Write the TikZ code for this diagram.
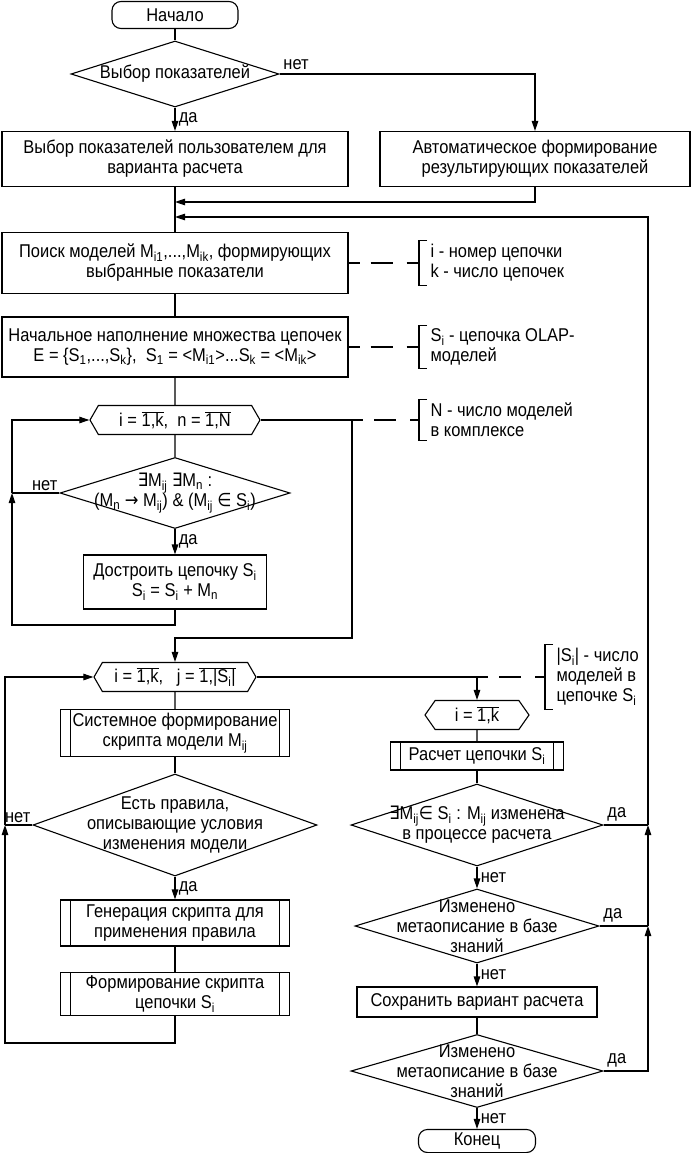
\documentclass[tikz,border=0pt]{standalone}
\usepackage{fontspec}
\setmainfont{Liberation Sans}[FakeStretch=0.89]
\newfontfamily\symfont{DejaVu Sans}[FakeStretch=0.88]
\usetikzlibrary{arrows.meta,shapes.geometric,shapes.symbols}

\newcommand{\ix}[1]{\textsubscript{#1}}
\newcommand{\ovl}[1]{$\overline{\hbox{#1}}$}
\newcommand{\exs}{{\symfont ∃}}
\newcommand{\ins}{{\symfont ∈}}
\newcommand{\arr}{{\symfont →}}

\begin{document}
\begin{tikzpicture}[x=1pt,y=-1pt,>={Triangle[length=10pt,width=6.5pt]},line width=1.1pt,
    every node/.style={font=\fontsize{18.5}{20}\selectfont},
    term node/.style={draw,rounded corners=9pt},
    proc node/.style={draw,rectangle,align=center},
    sub node/.style={draw,rectangle,align=center,
      path picture={\draw ([xshift=10pt]path picture bounding box.north west) -- ([xshift=10pt]path picture bounding box.south west)
                          ([xshift=-10pt]path picture bounding box.north east) -- ([xshift=-10pt]path picture bounding box.south east);}},
    dec node/.style={draw,diamond,inner sep=0pt},
    loop node/.style={draw,signal,signal to=east and west,signal pointer angle=120,inner sep=0pt,minimum height=29pt},
    txt/.style={align=center,inner sep=0pt},
    note/.style={align=left,anchor=west,inner sep=3pt},
    note line/.style={dash pattern=on 11pt off 11pt on 22pt off 14pt}]

  \useasboundingbox (0,0) rectangle (692,1153);

  % main column
  \node[term node,minimum width=126pt,minimum height=27pt] (start) at (175,15) {Начало};
  \node[dec node,minimum width=208pt,minimum height=66pt] (d1) at (175,74) {};
  \node[txt] (d1t) at (d1) {Выбор показателей};
  \node[proc node,minimum width=346pt,minimum height=55pt] (p1) at (175,159) {Выбор показателей пользователем для\\варианта расчета};
  \node[proc node,minimum width=310pt,minimum height=55pt] (p2) at (535,159) {Автоматическое формирование\\результирующих показателей};
  \node[proc node,minimum width=346pt,minimum height=61pt] (poisk) at (175,263) {Поиск моделей M\ix{i1},...,M\ix{ik}, формирующих\\выбранные показатели};
  \node[proc node,minimum width=346pt,minimum height=60pt] (nach) at (175,347) {Начальное наполнение множества цепочек\\E = \{S\ix{1},...,S\ix{k}\}, ~S\ix{1} = <M\ix{i1}>...S\ix{k} = <M\ix{ik}>};
  \node[loop node,minimum width=170pt] (hex1) at (175,420) {i = \ovl{1,k}, ~n = \ovl{1,N}};
  \node[dec node,minimum width=230pt,minimum height=71pt] (d2) at (175,493) {};
  \node[txt] (d2t) at (d2) {\exs M\ix{ij} \exs M\ix{n} :\\(M\ix{n} \arr{} M\ix{ij}) \& (M\ix{ij} \ins{} S\ix{i})};
  \node[proc node,minimum width=183pt,minimum height=54pt] (dost) at (175,582) {Достроить цепочку S\ix{i}\\S\ix{i} = S\ix{i} + M\ix{n}};
  \node[loop node,minimum width=162pt] (hex2) at (175,677) {i = \ovl{1,k}, ~ j = \ovl{1,|S\ix{i}|}};
  \node[sub node,minimum width=229pt,minimum height=46pt] (sys) at (175,733) {Системное формирование\\скрипта модели M\ix{ij}};
  \node[dec node,minimum width=284pt,minimum height=102pt] (d3) at (175,825) {};
  \node[txt] (d3t) at (d3) {Есть правила,\\описывающие условия\\изменения модели};
  \node[sub node,minimum width=229pt,minimum height=46pt] (gen) at (175,923) {Генерация скрипта для\\применения правила};
  \node[sub node,minimum width=229pt,minimum height=42pt] (form) at (175,994) {Формирование скрипта\\цепочки S\ix{i}};

  % right column
  \node[loop node,minimum width=104pt,signal pointer angle=110] (hex3) at (477,715) {i = \ovl{1,k}};
  \node[sub node,minimum width=173pt,minimum height=28pt] (calc) at (477,756) {Расчет цепочки S\ix{i}};
  \node[dec node,minimum width=252pt,minimum height=82pt] (d4) at (477,825) {};
  \node[txt] (d4t) at (d4) {\exs M\ix{ij}\ins{} S\ix{i} : M\ix{ij} изменена\\в процессе расчета};
  \node[dec node,minimum width=244pt,minimum height=74pt] (d5) at (477,926) {};
  \node[txt] (d5t) at (d5) {Изменено\\метаописание в базе\\знаний};
  \node[proc node,minimum width=240pt,minimum height=30pt] (save) at (477,1002) {Сохранить вариант расчета};
  \node[dec node,minimum width=252pt,minimum height=73pt] (d6) at (477,1071) {};
  \node[txt] (d6t) at (d6) {Изменено\\метаописание в базе\\знаний};
  \node[term node,minimum width=117pt,minimum height=23pt] (end) at (477,1141) {Конец};

  % notes
  \node[note] (n1) at (427,263) {i - номер цепочки\\k - число цепочек};
  \node[note] (n2) at (427,347) {S\ix{i} - цепочка OLAP-\\моделей};
  \node[note] (n3) at (427,420) {N - число моделей\\в комплексе};
  \node[note] (n4) at (553,677) {|S\ix{i}| - число\\моделей в\\цепочке S\ix{i}};
  \foreach \n in {n1,n2,n3,n4}
    \draw (\n.north west) -- ++(-8,0) |- (\n.south west);
  \coordinate (b1) at ([xshift=-8pt]n1.west);
  \coordinate (b2) at ([xshift=-8pt]n2.west);
  \coordinate (b3) at ([xshift=-8pt]n3.west);
  \coordinate (b4) at ([xshift=-8pt]n4.west);

  % junctions
  \coordinate (j1) at (175,202);
  \coordinate (j2) at (175,217);
  \coordinate (l1) at (12,493);
  \coordinate (l1b) at (12,625);
  \coordinate (h1) at (352,420);
  \coordinate (h1b) at (352,638);
  \coordinate (h2) at (477,677);
  \coordinate (l2) at (5,825);
  \coordinate (l2b) at (5,1043);
  \coordinate (r1) at (648,825);
  \coordinate (r2) at (648,926);

  \draw (start) -- (d1);
  \draw[->] (d1) -- node[right] {да} (p1);
  \draw[->] (d1.east) node[above right] {нет} -| (p2.north);
  \draw (p1) -- (poisk);
  \draw[->] (p2.south) |- (j1);
  \draw (poisk) -- (nach);
  \draw (nach) -- (hex1);
  \draw (hex1) -- (d2);
  \draw[->] (d2) -- node[right] {да} (dost);
  \draw (d2.west) node[above left,inner sep=1.5pt] {нет} -- (l1);
  \draw[->] (dost.south) |- (l1b) -- (l1);
  \draw[->] (l1) |- (hex1.west);
  \draw (hex1.east) -- (h1);
  \draw[->] (h1) -- (h1b) -| (hex2.north);

  \draw (hex2) -- (sys);
  \draw (sys) -- (d3);
  \draw[->] (d3) -- node[right] {да} (gen);
  \draw (gen) -- (form);
  \draw (d3.west) node[above left,inner sep=1.5pt] {нет} -- (l2);
  \draw[->] (form.south) |- (l2b) -- (l2);
  \draw[->] (l2) |- (hex2.west);

  \draw (hex2.east) -- (h2);
  \draw[->] (h2) -- (hex3.north);
  \draw (hex3) -- (calc);
  \draw (calc) -- (d4);
  \draw[->] (d4) -- node[right] {нет} (d5);
  \draw[->] (d5) -- node[right] {нет} (save);
  \draw (save) -- (d6);
  \draw[->] (d6) -- node[right] {нет} (end);
  \draw (d4.east) node[above right] {да} -- (r1);
  \draw (d5.east) node[above right] {да} -- (r2);
  \draw[->] (d6.east) node[above right] {да} -| (r2);
  \draw[->] (r2) -- (r1);
  \draw[->] (r1) |- (j2);

  \draw[note line] (poisk.east) -- (b1);
  \draw[note line] (nach.east) -- (b2);
  \draw[note line] (h1) -- (b3);
  \draw[note line] (h2) -- (b4);
\end{tikzpicture}
\end{document}
